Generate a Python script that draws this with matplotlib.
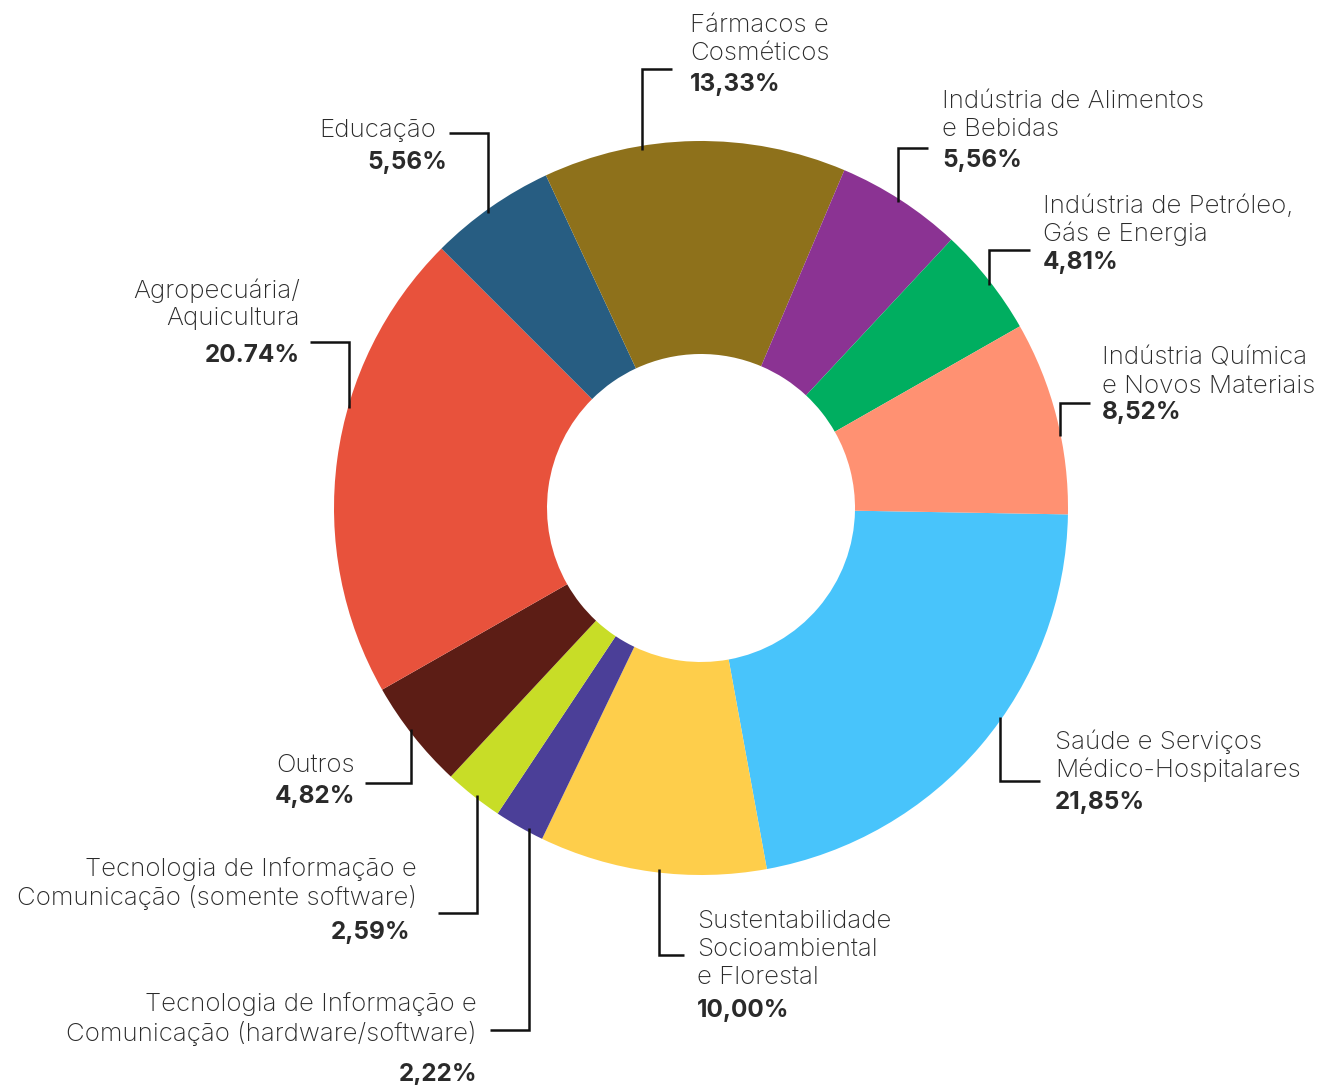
import matplotlib
matplotlib.use("Agg")
import matplotlib.pyplot as plt
import numpy as np

plt.rcParams['font.family'] = ['Inter', 'DejaVu Sans']

# Sector shares (%), clockwise from the right-hand side
categories = [
    "Saúde e Serviços\nMédico-Hospitalares",
    "Sustentabilidade\nSocioambiental\ne Florestal",
    "Tecnologia de Informação e\nComunicação (hardware/software)",
    "Tecnologia de Informação e\nComunicação (somente software)",
    "Outros",
    "Agropecuária/\nAquicultura",
    "Educação",
    "Fármacos e\nCosméticos",
    "Indústria de Alimentos\ne Bebidas",
    "Indústria de Petróleo,\nGás e Energia",
    "Indústria Química\ne Novos Materiais",
]
values = [21.85, 10.00, 2.22, 2.59, 4.82, 20.74, 5.56, 13.33, 5.56, 4.81, 8.52]
pct_labels = ["21,85%", "10,00%", "2,22%", "2,59%", "4,82%", "20.74%",
              "5,56%", "13,33%", "5,56%", "4,81%", "8,52%"]
colors = ["#48C4FB", "#FECE4B", "#4B3F98", "#C8DD27", "#5C1D15", "#E8523C",
          "#275D82", "#8E711B", "#8B3393", "#00AE60", "#FF9172"]

W, H = 1319, 1085
fig = plt.figure(figsize=(W / 100, H / 100), dpi=100)
ax = fig.add_axes([0, 0, 1, 1])
ax.set_xlim(0, W)
ax.set_ylim(0, H)
ax.set_aspect('equal')
ax.axis('off')

cx, cy = 701, H - 508
R = 367
ring = 1 - 154 / R

ax.pie(values, colors=colors, startangle=-1, counterclock=False,
       center=(cx, cy), radius=R, frame=True,
       wedgeprops=dict(width=R * ring, linewidth=0))
ax.set_xlim(0, W)
ax.set_ylim(0, H)
ax.axis('off')

TXT = "#2a2a2a"
FS_NAME = 18.6
FS_PCT = 17.5

# Leader layout: (line x, elbow y, elbow end x, text x, text anchor,
#                 name line centres (px from top), percent centre, percent x)
layout = [
    (1000, 781, 1040, 1055, 'left', [742, 770], 802, 1055, 'down'),
    (659, 955, 684, 697, 'left', [921, 949, 977], 1010, 697, 'down'),
    (529, 1030, 490, 477, 'right', [1004, 1033], 1074, 477, 'down'),
    (477, 913, 438, 417, 'right', [869, 898], 933, 410, 'down'),
    (411, 783, 365, 355, 'right', [765], 797, 355, 'down'),
    (349, 342, 310, 300, 'right', [291, 319], 355, 300, 'up'),
    (488, 133, 449, 436, 'right', [131], 163, 447, 'up'),
    (642, 69, 672, 690, 'left', [25, 53], 85, 690, 'up'),
    (898, 148, 928, 942, 'left', [101, 129], 160, 942, 'up'),
    (989, 250, 1030, 1043, 'left', [206, 234], 262, 1043, 'up'),
    (1060, 403, 1090, 1102, 'left', [358, 386], 413, 1102, 'up'),
]

for cat, pct, (lx, ey, ex, tx, ha, ys, py, px, side) in zip(categories, pct_labels, layout):
    dx = lx - cx
    dy = np.sqrt(R ** 2 - dx ** 2)
    y0 = cy + dy if side == 'up' else cy - dy
    y0 += -4 if side == 'up' else 4
    ax.plot([lx, lx, ex], [y0, H - ey, H - ey], color="#111111", lw=1.8,
            solid_joinstyle='miter', solid_capstyle='butt')
    for line, yy in zip(cat.split("\n"), ys):
        ax.text(tx, H - yy, line, ha=ha, va='center', fontsize=FS_NAME,
                color=TXT, fontweight='light')
    ax.text(px, H - py, pct, ha=ha, va='center', fontsize=FS_PCT,
            color=TXT, fontweight='bold')

fig.savefig("out.png", dpi=100, facecolor='white')
